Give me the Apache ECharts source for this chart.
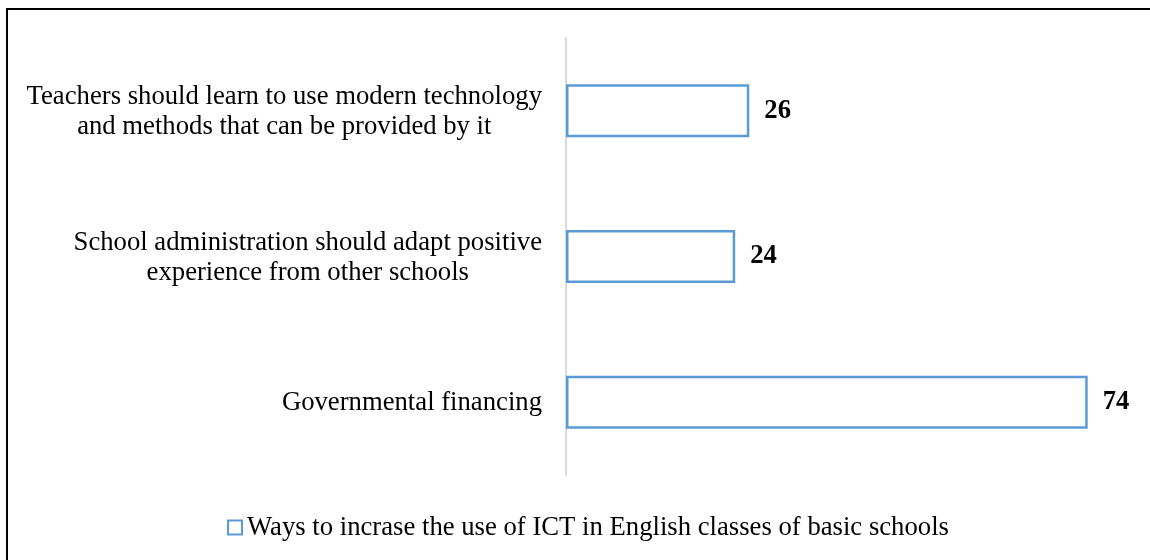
<!DOCTYPE html>
<html>
<head>
<meta charset="utf-8">
<script src="https://cdn.jsdelivr.net/npm/echarts@6/dist/echarts.min.js"></script>
<style>
  html, body { margin: 0; padding: 0; background: #fff; }
  #frame {
    position: absolute; left: 6px; top: 8px; width: 1150px; height: 560px;
    border-left: 2px solid #000; border-top: 2px solid #000;
  }
  #chart { position: absolute; left: 0; top: 0; width: 1150px; height: 560px; }
</style>
</head>
<body>
<div id="frame"></div>
<div id="chart"></div>
<script>
// categories, bottom to top
var categories = [
	'Governmental financing',
	'School administration should adapt positive\nexperience from other schools',
	'Teachers should learn to use modern technology\nand methods that can be provided by it'
];
var values = [74, 24, 26];
var seriesName = 'Ways to incrase the use of ICT in English classes of basic schools';

var serif = '"Liberation Serif", "Times New Roman", serif';

var chart = echarts.init(document.getElementById('chart'));

var option = {
	animation : false,
	textStyle : {
		fontFamily : serif
	},
	grid : {
		left : 566,
		right : 20,
		top : 38,
		bottom : 85,
		containLabel : false
	},
	legend : {
		left : 227,
		top : 514,
		padding : 0,
		itemWidth : 14,
		itemHeight : 14,
		icon : 'rect',
		data : [ seriesName ],
		textStyle : {
			fontFamily : serif,
			fontSize : 26.7,
			color : '#000'
		}
	},
	xAxis : {
		type : 'value',
		min : 0,
		max : 80,
		show : false
	},
	yAxis : {
		type : 'category',
		data : categories,
		axisLine : {
			lineStyle : {
				color : '#d9d9d9',
				width : 2
			}
		},
		axisTick : { show : false },
		axisLabel : {
			margin : 24,
			color : '#000',
			fontFamily : serif,
			fontSize : 26.7,
			lineHeight : 30,
			formatter : function(v) {
				// centre each line of the label inside its block
				return v.split('\n').map(function(l) {
					return '{c|' + l + '}';
				}).join('\n');
			},
			rich : {
				c : {
					align : 'center',
					fontFamily : serif,
					fontSize : 26.7,
					lineHeight : 30,
					color : '#000',
					padding : [ 2, 0, 0, 0 ]
				}
			}
		}
	},
	series : [ {
		name : seriesName,
		type : 'bar',
		data : values,
		barWidth : 53,
		itemStyle : {
			color : '#fff',
			borderColor : '#5b9bd5',
			borderWidth : 2.5
		},
		label : {
			show : true,
			position : 'right',
			distance : 15,
			color : '#000',
			fontFamily : serif,
			fontSize : 26.7,
			fontWeight : 'bold'
		}
	} ]
};
chart.setOption(option);
</script>
</body>
</html>
